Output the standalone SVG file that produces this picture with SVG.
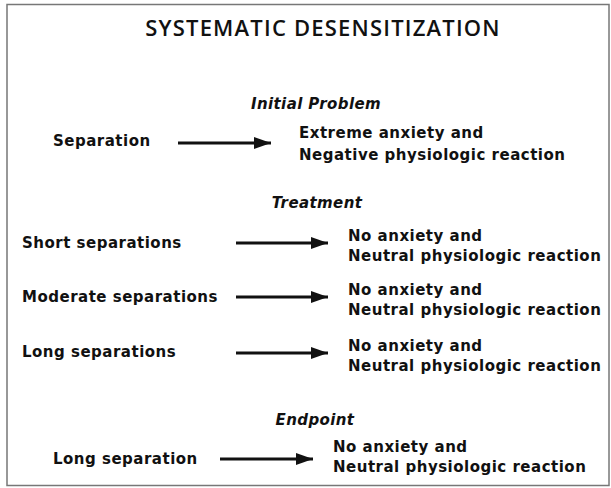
<svg xmlns="http://www.w3.org/2000/svg" width="611" height="488" viewBox="0 0 611 488">
<defs>
<marker id="ah" markerUnits="userSpaceOnUse" markerWidth="17" markerHeight="12" refX="17" refY="6" orient="auto">
<path d="M0,0 L17,6 L0,12 Z" fill="#111"/>
</marker>
<style>
.t{font-family:"DejaVu Sans",sans-serif;font-weight:bold;font-size:15px;letter-spacing:0.5px;fill:#111}
.h{font-family:"DejaVu Sans",sans-serif;font-weight:bold;font-style:italic;font-size:15px;letter-spacing:0.4px;fill:#111;text-anchor:middle}
.title{font-family:"Open Sans","DejaVu Sans",sans-serif;font-weight:600;font-size:22px;letter-spacing:1.2px;fill:#111;text-anchor:middle}
.c{stroke:#111;stroke-width:3;fill:none;marker-end:url(#ah)}
</style>
</defs>
<rect x="0" y="0" width="611" height="488" fill="#fff"/>
<rect x="7" y="4.5" width="602" height="481" fill="none" stroke="#777" stroke-width="1.5"/>
<text class="title" x="323" y="36">SYSTEMATIC DESENSITIZATION</text>

<g id="initial">
<text class="h" x="316" y="109">Initial Problem</text>
<g id="n-separation"><text class="t" x="53" y="146">Separation</text></g>
<g id="r-initial"><text class="t" x="299" y="138">Extreme anxiety and</text><text class="t" x="299" y="160">Negative physiologic reaction</text></g>
</g>

<g id="treatment">
<text class="h" x="317" y="208">Treatment</text>
<g id="n-short"><text class="t" x="22" y="248">Short separations</text></g>
<g id="r-short"><text class="t" x="348" y="241">No anxiety and</text><text class="t" x="348" y="261">Neutral physiologic reaction</text></g>
<g id="n-moderate"><text class="t" x="22" y="302">Moderate separations</text></g>
<g id="r-moderate"><text class="t" x="348" y="295">No anxiety and</text><text class="t" x="348" y="315">Neutral physiologic reaction</text></g>
<g id="n-long"><text class="t" x="22" y="357">Long separations</text></g>
<g id="r-long"><text class="t" x="348" y="351">No anxiety and</text><text class="t" x="348" y="371">Neutral physiologic reaction</text></g>
</g>

<g id="endpoint">
<text class="h" x="315" y="425">Endpoint</text>
<g id="n-end"><text class="t" x="53" y="464">Long separation</text></g>
<g id="r-end"><text class="t" x="333" y="452">No anxiety and</text><text class="t" x="333" y="472">Neutral physiologic reaction</text></g>
</g>

<g id="connectors">
<line class="c" x1="178" y1="143" x2="271" y2="143"/>
<line class="c" x1="236" y1="243" x2="328" y2="243"/>
<line class="c" x1="236" y1="297" x2="328" y2="297"/>
<line class="c" x1="236" y1="353" x2="328" y2="353"/>
<line class="c" x1="220" y1="459" x2="313" y2="459"/>
</g>
</svg>
